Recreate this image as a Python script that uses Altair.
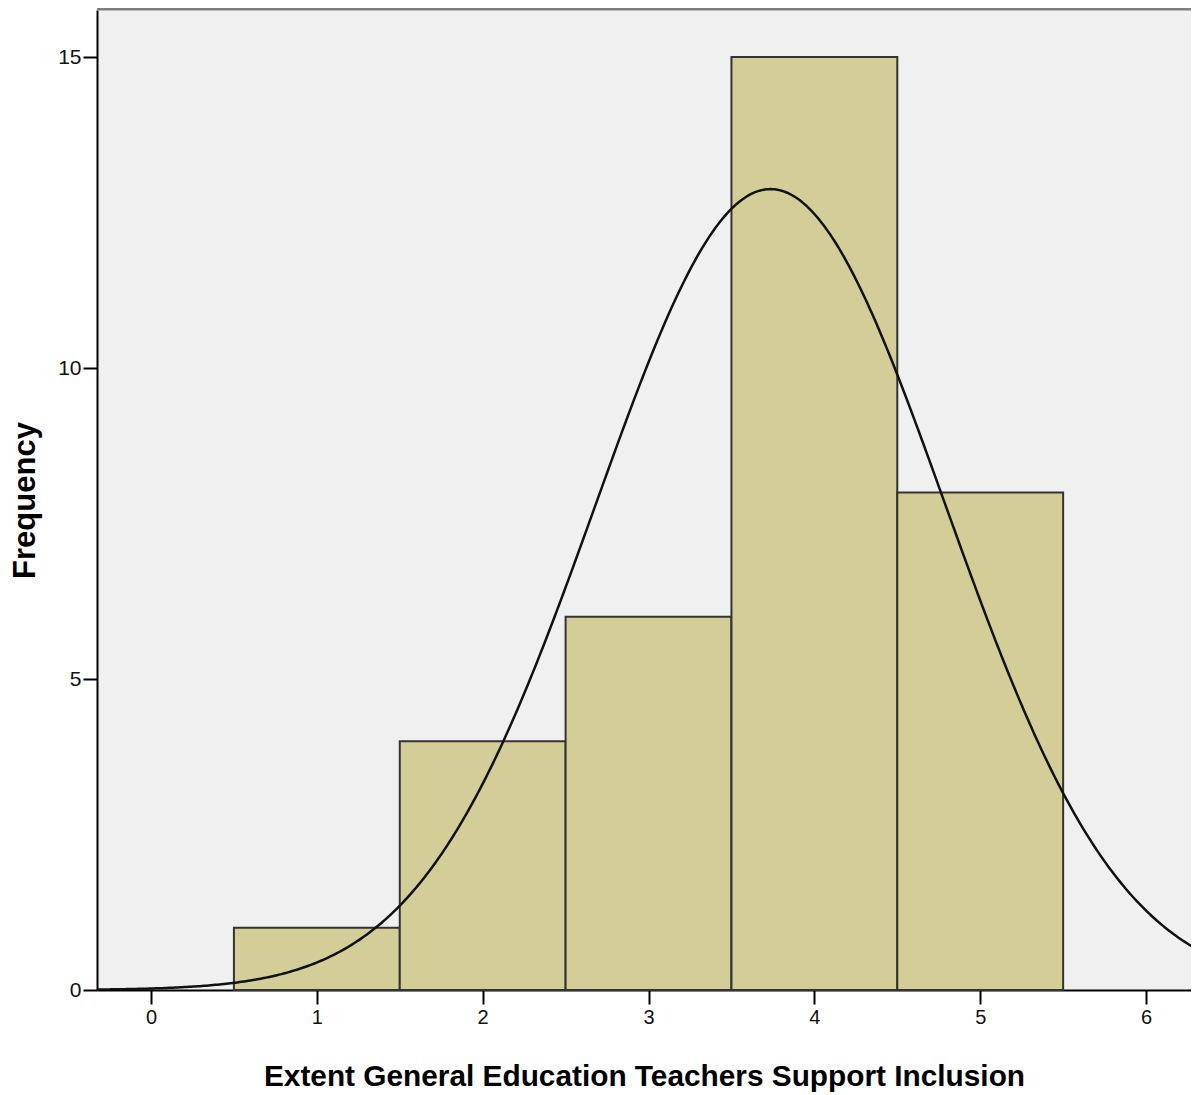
import altair as alt
import numpy as np
import pandas as pd

# Histogram data (scores 1..5, frequency)
scores = [1, 2, 3, 4, 5]
counts = [1, 4, 6, 15, 8]
x_ticks = [0, 1, 2, 3, 4, 5, 6]
y_ticks = [0, 5, 10, 15]
x_title = "Extent General Education Teachers Support Inclusion"
y_title = "Frequency"

bars = pd.DataFrame({
    "score": scores,
    "x0": [s - 0.5 for s in scores],
    "x1": [s + 0.5 for s in scores],
    "count": counts,
})

# Normal curve fitted to the histogram data (as SPSS does)
vals = np.repeat(scores, counts)
n = len(vals)
mu = vals.mean()
sd = vals.std(ddof=1)
xs = np.linspace(-0.33, 6.3, 500)
ys = n * 1.0 * np.exp(-0.5 * ((xs - mu) / sd) ** 2) / (sd * np.sqrt(2 * np.pi))
curve = pd.DataFrame({"x": xs, "y": ys})

W, H = 1094, 980
xdom = [-0.3256, 6.271]
ydom = [0, 15.756]

xscale = alt.Scale(domain=xdom, nice=False, zero=False)
yscale = alt.Scale(domain=ydom, nice=False)

xaxis = alt.Axis(
    title=x_title, values=x_ticks, format="d", grid=False, tickSize=14, tickWidth=2,
    tickColor="black", domainColor="black", domainWidth=2,
    labelFont="Liberation Sans", labelFontSize=20, labelColor="#111",
    labelPadding=3, labelAngle=0,
    titleFont="Liberation Sans", titleFontSize=29.8, titleFontWeight="bold",
    titleColor="black", titleY=95, titleBaseline="alphabetic",
)
yaxis = alt.Axis(
    title=y_title, values=y_ticks, format="d", grid=False, tickSize=14, tickWidth=2,
    tickColor="black", domainColor="black", domainWidth=2,
    labelFont="Liberation Sans", labelFontSize=21, labelColor="#111",
    labelPadding=2,
    titleFont="Liberation Sans", titleFontSize=31, titleFontWeight="bold",
    titleColor="black", titleX=-63, titleBaseline="alphabetic",
)

bar_layer = alt.Chart(bars).mark_rect(
    fill="#d3ce98", stroke="#333333", strokeWidth=2
).encode(
    x=alt.X("x0:Q", scale=xscale, axis=xaxis),
    x2="x1:Q",
    y=alt.Y("count:Q", scale=yscale, axis=yaxis),
    y2=alt.datum(0),
)

line_layer = alt.Chart(curve).mark_line(
    color="#111111", strokeWidth=2.5, clip=True
).encode(
    x=alt.X("x:Q", scale=xscale),
    y=alt.Y("y:Q", scale=yscale),
)

top_rule = alt.Chart(pd.DataFrame({"a": [0]})).mark_rule(
    color="#7f7f7f", strokeWidth=3
).encode(
    x=alt.value(0), x2=alt.value(W), y=alt.value(-1)
)

chart = alt.layer(bar_layer, line_layer, top_rule).properties(
    width=W, height=H,
    autosize=alt.AutoSizeParams(type="none"),
    padding={"left": 89, "top": 2, "right": 0, "bottom": 104},
    background="white",
).configure_view(
    fill="#f0f0f0", stroke=None
)

chart.save("out.html", embed_options={"renderer": "svg", "actions": False})
